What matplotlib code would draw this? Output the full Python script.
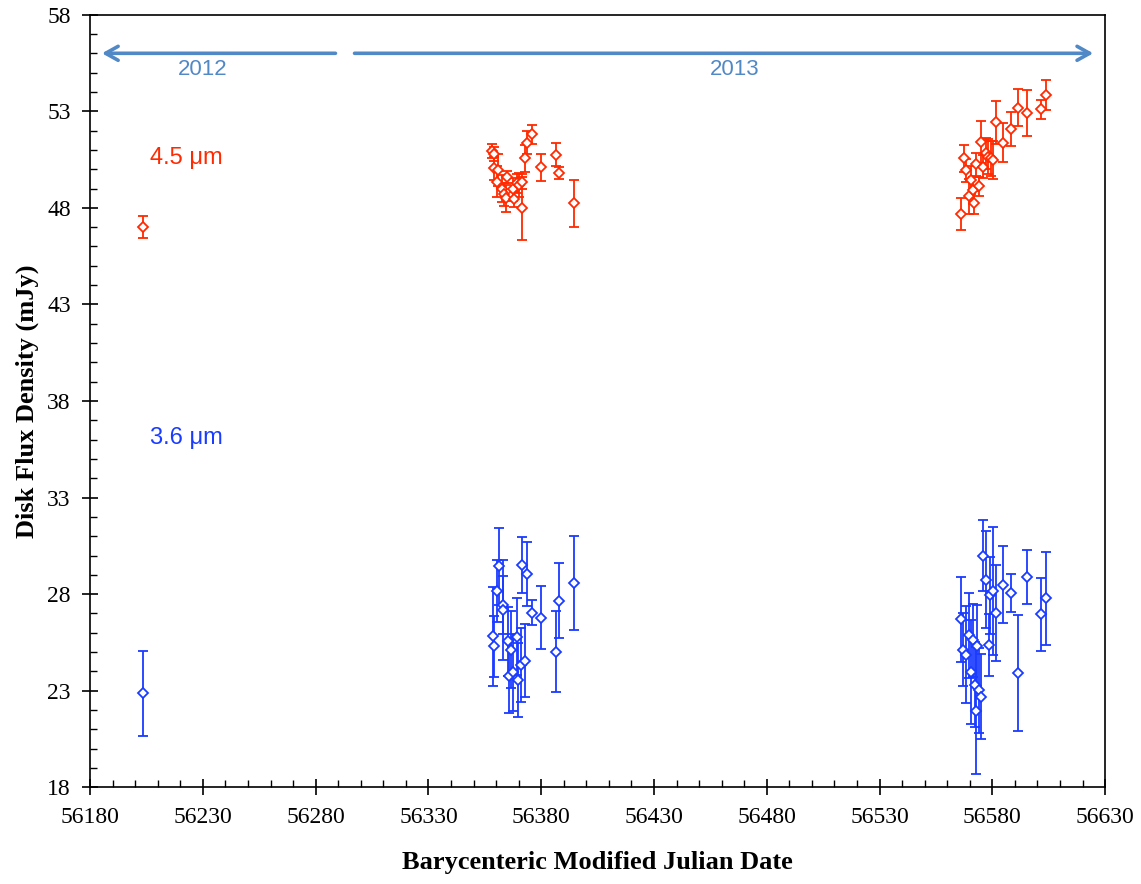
import numpy as np
import matplotlib.pyplot as plt
from matplotlib.ticker import FixedLocator

# 4.5 micron disk flux (mJy)
t45 = [56203.5,
       56358.4, 56358.9, 56359.1, 56361.0, 56360.6, 56362.8, 56363.7, 56364.6,
       56364.8, 56367.4, 56367.9, 56369.1, 56370.3, 56371.3, 56371.3, 56372.8,
       56373.6, 56375.8, 56379.8, 56386.4, 56387.7, 56394.7,
       56566.1, 56567.4, 56568.3, 56569.6, 56570.5, 56571.5, 56572.1, 56572.7,
       56573.9, 56574.8, 56575.7, 56577.0, 56578.2, 56579.4, 56580.4, 56581.6,
       56584.8, 56588.3, 56591.5, 56595.2, 56601.8, 56603.8]
f45 = [47.0,
       50.94, 50.8, 50.04, 49.95, 49.35, 49.0, 48.7, 48.49,
       49.6, 48.95, 48.44, 49.26, 49.18, 49.35, 47.97, 50.56,
       51.37, 51.8, 50.09, 50.75, 49.81, 48.23,
       47.68, 50.56, 49.95, 48.6, 49.44, 48.92, 48.26, 50.26,
       49.12, 51.42, 50.12, 50.82, 50.64, 50.56, 50.47, 52.42,
       51.37, 52.08, 53.18, 52.89, 53.11, 53.84]
e45 = [0.57,
       0.35, 0.35, 0.6, 0.82, 0.8, 0.7, 0.6, 0.7,
       0.3, 0.6, 0.4, 0.5, 0.6, 0.4, 1.63, 0.7,
       0.6, 0.5, 0.68, 0.6, 0.3, 1.23,
       0.82, 0.7, 0.6, 0.9, 0.7, 0.7, 0.6, 0.6,
       0.5, 1.1, 0.6, 0.8, 0.9, 0.9, 1.0, 1.1,
       1.0, 0.87, 0.95, 1.19, 0.49, 0.78]

# 3.6 micron disk flux (mJy)
t36 = [56203.5,
       56358.5, 56359.1, 56360.5, 56361.2, 56363.1, 56363.1, 56365.1, 56365.9,
       56366.8, 56367.7, 56369.1, 56369.6, 56370.9, 56371.6, 56372.8, 56373.7,
       56375.9, 56379.8, 56386.4, 56387.7, 56394.7,
       56566.1, 56567.1, 56568.3, 56569.5, 56570.5, 56571.4, 56572.3, 56572.6,
       56573.2, 56574.1, 56574.9, 56575.8, 56577.0, 56578.5, 56578.9, 56580.3,
       56581.6, 56584.8, 56588.3, 56591.5, 56595.2, 56601.8, 56603.8]
f36 = [22.86,
       25.82, 25.29, 28.16, 29.44, 27.45, 27.19, 25.55, 23.74,
       25.12, 23.96, 25.8, 23.56, 24.34, 29.5, 24.55, 29.04,
       27.04, 26.78, 25.03, 27.66, 28.57,
       26.69, 25.12, 24.86, 25.86, 23.96, 25.6, 23.32, 21.97,
       25.34, 23.03, 22.7, 30.0, 28.75, 25.38, 27.93, 28.16,
       27.02, 28.49, 28.05, 23.91, 28.88, 26.95, 27.79]
e36 = [2.2,
       2.56, 1.6, 1.6, 2.0, 1.5, 2.6, 1.8, 1.9,
       2.0, 2.0, 2.0, 1.93, 1.9, 1.45, 1.9, 1.64,
       0.65, 1.64, 2.1, 1.93, 2.42,
       2.2, 1.9, 2.5, 2.2, 2.7, 1.9, 2.2, 3.28,
       2.1, 2.2, 2.2, 1.85, 2.5, 1.6, 2.0, 3.3,
       2.5, 2.0, 1.0, 3.0, 1.4, 1.9, 2.4]

red = '#ff2a00'
blue = '#1a3cff'
arrow_col = '#5089c6'

fig = plt.figure(figsize=(11.41, 8.84), dpi=100)
ax = fig.add_axes([0.079, 0.1094, 0.8895, 0.874])

for t, f, e, c in [(t45, f45, e45, red), (t36, f36, e36, blue)]:
    ax.errorbar(t, f, yerr=e, fmt='D', ms=5.5, mfc='white', mec=c, mew=1.3,
                ecolor=c, elinewidth=1.3, capsize=3.5, capthick=1.3)

ax.set_xlim(56180, 56630)
ax.set_ylim(18, 58)
ax.xaxis.set_major_locator(FixedLocator(np.arange(56180, 56631, 50)))
ax.xaxis.set_minor_locator(FixedLocator(np.arange(56180, 56631, 10)))
ax.yaxis.set_major_locator(FixedLocator(np.arange(18, 59, 5)))
ax.yaxis.set_minor_locator(FixedLocator(np.arange(18, 59, 1)))
ax.tick_params(which='major', direction='inout', length=12, width=1.2,
               labelsize=17, pad=8)
ax.tick_params(which='minor', direction='in', length=5, width=1.0)
ax.tick_params(top=False, right=False, which='both')
for lab in ax.get_xticklabels() + ax.get_yticklabels():
    lab.set_fontfamily('Liberation Serif')
for s in ax.spines.values():
    s.set_linewidth(1.2)

ax.set_xlabel('Barycenteric Modified Julian Date', fontsize=19,
              fontweight='bold', family='Liberation Serif', labelpad=17)
ax.set_ylabel('Disk Flux Density (mJy)', fontsize=19,
              fontweight='bold', family='Liberation Serif', labelpad=6)

# year arrows with open chevron heads
head = dict(arrowstyle='->,head_length=0.5,head_width=0.28',
            color=arrow_col, lw=2.6, mutation_scale=18)
ax.annotate('', xy=(56184, 56), xytext=(56290, 56), arrowprops=head)
ax.annotate('', xy=(56626, 56), xytext=(56296, 56), arrowprops=head)
ax.text(56230, 55.15, '2012', color=arrow_col, fontsize=16,
        family='Liberation Sans', ha='center', va='center')
ax.text(56466, 55.15, '2013', color=arrow_col, fontsize=16,
        family='Liberation Sans', ha='center', va='center')

ax.text(56206.5, 50.6, '4.5 μm', color=red, fontsize=17,
        family=['Liberation Sans', 'DejaVu Sans'], va='center')
ax.text(56206.5, 36.1, '3.6 μm', color=blue, fontsize=17,
        family=['Liberation Sans', 'DejaVu Sans'], va='center')

fig.savefig('out.png', dpi=100)
